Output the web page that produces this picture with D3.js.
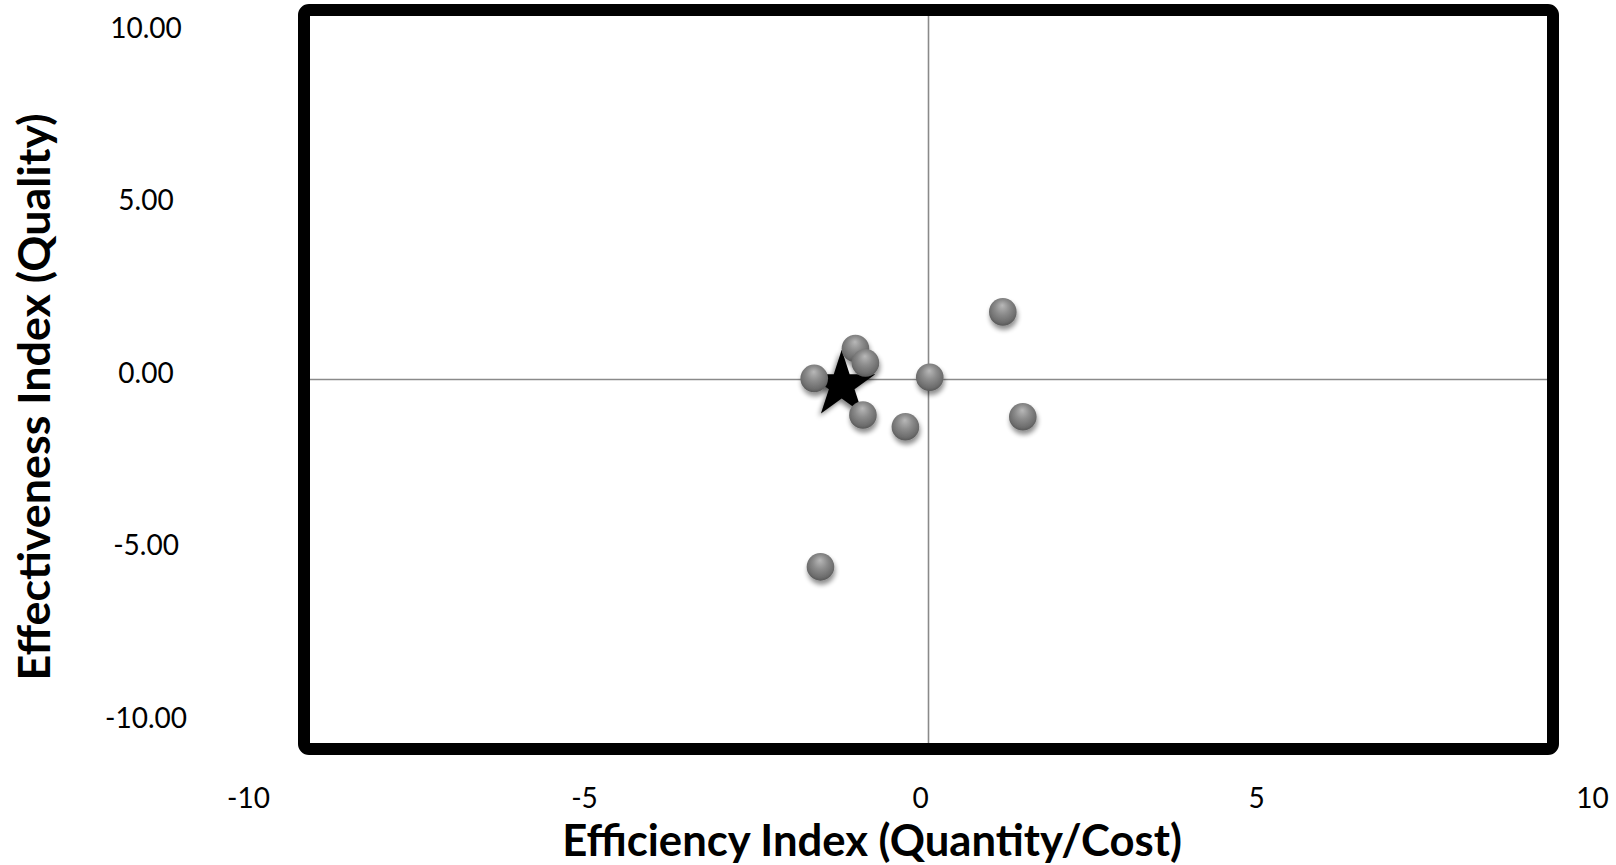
<!DOCTYPE html>
<html>
<head>
<meta charset="utf-8">
<script src="https://cdn.jsdelivr.net/npm/d3@7"></script>
<style>
  html, body { margin: 0; padding: 0; background: #fff; }
  svg { display: block; }
</style>
</head>
<body>
<svg id="chart" width="1616" height="865"></svg>
<script>
// ---- data ----
const pointsX = [1.19, -1.17, -1.01, -1.83, 0.02, -1.05, -0.37, 1.51, -1.73];
const pointsY = [1.83, 0.84, 0.45, 0.03, 0.06, -0.96, -1.28, -1.01, -5.07];
const starX = [-1.39];
const starY = [-0.15];
const xTicks = [-10, -5, 0, 5, 10];
const yTicks = [10, 5, 0, -5, -10];
const xTitle = "Efficiency Index (Quantity/Cost)";
const yTitle = "Effectiveness Index (Quality)";

const svg = d3.select("#chart");

const x = d3.scaleLinear().domain([-10, 10]).range([304, 1553]);
const y = d3.scaleLinear().domain([-10, 10]).range([749, 10]);
// label axes (offset from plot area as in the original)
const xl = d3.scaleLinear().domain([-10, 10]).range([248, 1592]);
const yl = d3.scaleLinear().domain([-10, 10]).range([717, 27]);

const loc = d3.formatLocale({decimal: ".", thousands: ",", grouping: [3], currency: ["$", ""], minus: "-"});

const defs = svg.append("defs");
const grad = defs.append("radialGradient").attr("id", "ball")
  .attr("cx", "50%").attr("cy", "42%").attr("r", "58%")
  .attr("fx", "48%").attr("fy", "26%");
grad.append("stop").attr("offset", "0%").attr("stop-color", "#b8b8b8");
grad.append("stop").attr("offset", "45%").attr("stop-color", "#8c8c8c");
grad.append("stop").attr("offset", "85%").attr("stop-color", "#6c6c6c");
grad.append("stop").attr("offset", "100%").attr("stop-color", "#585858");

const sh = defs.append("filter").attr("id", "shadow")
  .attr("x", "-50%").attr("y", "-50%").attr("width", "200%").attr("height", "200%");
sh.append("feGaussianBlur").attr("in", "SourceAlpha").attr("stdDeviation", 2.5).attr("result", "b");
sh.append("feOffset").attr("in", "b").attr("dx", 1).attr("dy", 4).attr("result", "o");
sh.append("feComponentTransfer").attr("in", "o").attr("result", "o2")
  .append("feFuncA").attr("type", "linear").attr("slope", 0.45);
const m = sh.append("feMerge");
m.append("feMergeNode").attr("in", "o2");
m.append("feMergeNode").attr("in", "SourceGraphic");

const sh2 = defs.append("filter").attr("id", "starshadow")
  .attr("x", "-50%").attr("y", "-50%").attr("width", "200%").attr("height", "200%");
sh2.append("feGaussianBlur").attr("in", "SourceAlpha").attr("stdDeviation", 2.5).attr("result", "b");
sh2.append("feOffset").attr("in", "b").attr("dx", -2).attr("dy", 3).attr("result", "o");
sh2.append("feComponentTransfer").attr("in", "o").attr("result", "o2")
  .append("feFuncA").attr("type", "linear").attr("slope", 0.5);
const m2 = sh2.append("feMerge");
m2.append("feMergeNode").attr("in", "o2");
m2.append("feMergeNode").attr("in", "SourceGraphic");

// zero lines
svg.append("line").attr("x1", x(-10)).attr("x2", x(10)).attr("y1", y(0)).attr("y2", y(0))
  .attr("stroke", "#8a8a8a").attr("stroke-width", 1.6);
svg.append("line").attr("x1", x(0)).attr("x2", x(0)).attr("y1", y(10)).attr("y2", y(-10))
  .attr("stroke", "#8a8a8a").attr("stroke-width", 1.6);

// plot border
svg.append("rect").attr("x", x(-10)).attr("y", y(10))
  .attr("width", x(10) - x(-10)).attr("height", y(-10) - y(10))
  .attr("rx", 5).attr("fill", "none").attr("stroke", "#000").attr("stroke-width", 12);

// star series
const starData = starX.map((v, i) => ({x: v, y: starY[i]}));
svg.append("g").selectAll("path").data(starData).join("path")
  .attr("d", d3.symbol(d3.symbolStar, 1400))
  .attr("transform", d => `translate(${x(d.x)},${y(d.y)})`)
  .attr("fill", "#000").attr("filter", "url(#starshadow)");

// ball series
const pts = pointsX.map((v, i) => ({x: v, y: pointsY[i]}));
svg.append("g").selectAll("circle").data(pts).join("circle")
  .attr("cx", d => x(d.x)).attr("cy", d => y(d.y)).attr("r", 13.8)
  .attr("fill", "url(#ball)").attr("filter", "url(#shadow)");

// axes labels
const gx = svg.append("g").attr("transform", "translate(0,798)")
  .call(d3.axisBottom(xl).tickValues(xTicks).tickSize(0).tickFormat(loc.format("d")));
gx.select(".domain").remove();
gx.selectAll("text").attr("y", 0).attr("dy", "0.36em")
  .attr("font-family", "Lato, 'Open Sans', sans-serif").attr("font-size", 28).attr("fill", "#000");

const gy = svg.append("g").attr("transform", "translate(146,0)")
  .call(d3.axisLeft(yl).tickValues(yTicks).tickSize(0).tickFormat(loc.format(".2f")));
gy.select(".domain").remove();
gy.selectAll("text").attr("x", 0).attr("dy", "0.36em").attr("text-anchor", "middle")
  .attr("font-family", "Lato, 'Open Sans', sans-serif").attr("font-size", 28).attr("fill", "#000");

// titles, sized to the measured lengths
function fitText(sel, target) {
  const len = sel.node().getComputedTextLength();
  const fs = parseFloat(sel.attr("font-size"));
  sel.attr("font-size", fs * target / len);
}
const tx = svg.append("text").text(xTitle)
  .attr("x", 872).attr("y", 856).attr("text-anchor", "middle")
  .attr("font-family", "Lato, 'Open Sans', sans-serif").attr("font-weight", "bold")
  .attr("font-size", 38).attr("fill", "#000");
fitText(tx, 620);
const ty = svg.append("text").text(yTitle)
  .attr("transform", "translate(50,397) rotate(-90)").attr("text-anchor", "middle")
  .attr("font-family", "Lato, 'Open Sans', sans-serif").attr("font-weight", "bold")
  .attr("font-size", 38).attr("fill", "#000");
fitText(ty, 567);
</script>
</body>
</html>
